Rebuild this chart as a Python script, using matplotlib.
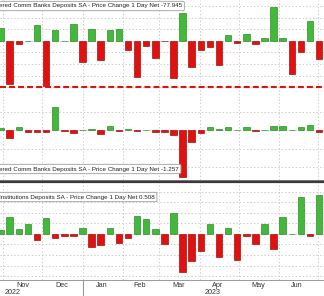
import matplotlib
matplotlib.use('Agg')
import matplotlib.pyplot as plt
import matplotlib.dates as mdates
from matplotlib import font_manager
import numpy as np
import pandas as pd

# weekly observations
weeks = pd.date_range('2022-10-30', periods=36, freq='7D')

large_banks = [56.5, -187, -13, 1, 70, -196, 48, 1, 74, -91, 52, -83, 46, 52, -39, -157, -22, -74,
               -2, -161, 122, -113, -39, -26, -104, 26, -9, 28, -13, 13, 148, 13, -144, -50, 87, -77.945]
small_banks = [1, -4.3, 1.6, -0.8, -1.1, -1.1, 12.4, -0.5, -1.6, 0.15, 0.3, -1.9, 2.2, -0.5, 0.5, -0.5, 0.15, -1.1,
               -1.1, -2.7, -25.4, -6.5, -1.6, 1.6, 0.3, 1.9, 0.15, 1.4, -0.5, 0.15, 2.2, 2.2, 0.15, 1.4, 2.7, -1.257]
foreign = [3.8, 16, 4.8, 9.5, -5.7, 15, -3.8, -1.9, -1.9, 5.7, -12.4, -10.5, 5.7, -8.6, -3.8, 17, 14, 4.8,
           -9.5, 20, -36, -26, -16, 9.5, -22, 5.7, -25, -1.9, -9.5, 9.5, -14, 16, 0.3, 35, -1.9, 37]

titles = ['ered Comm Banks Deposits SA - Price Change 1 Day Net -77.945',
          'ered Comm Banks Deposits SA - Price Change 1 Day Net -1.257',
          'Institutions Deposits SA - Price Change 1 Day Net 0.508']
month_labels = ['Nov', 'Dec', 'Jan', 'Feb', 'Mar', 'Apr', 'May', 'Jun']
month_mid = pd.to_datetime(['2022-11-16', '2022-12-16', '2023-01-16', '2023-02-14',
                            '2023-03-16', '2023-04-15', '2023-05-16', '2023-06-15'])
month_starts = pd.date_range('2022-11-01', '2023-07-01', freq='MS')

names = {f.name for f in font_manager.fontManager.ttflist}
if 'Liberation Sans Narrow' in names:
    title_font, title_size = 'Liberation Sans Narrow', 5.4
else:
    title_font, title_size = 'Liberation Sans', 4.5

plt.rcParams['font.family'] = ['Liberation Sans', 'DejaVu Sans']
plt.rcParams['lines.scale_dashes'] = False

W, H = 324, 296
fig = plt.figure(figsize=(W / 100, H / 100), dpi=100)

GREEN = '#44b83a'
GREEN_E = '#2c8f27'
RED = '#e0120f'
RED_E = '#a80c0a'

jan1 = pd.Timestamp('2023-01-01')
x0 = mdates.date2num(jan1) - 82.5 / 1.3
x1 = x0 + 324 / 1.3


def panel(top, bottom, values, ylim, grid):
    ax = fig.add_axes([0, 1 - bottom / H, 1, (bottom - top) / H])
    v = np.array(values)
    cols = [GREEN if a >= 0 else RED for a in v]
    edges = [GREEN_E if a >= 0 else RED_E for a in v]
    ax.bar(weeks, v, width=5, color=cols, edgecolor=edges, linewidth=0.5, zorder=3)
    ax.set_xlim(x0, x1)
    ax.set_ylim(*ylim)
    ax.set_yticks(grid)
    ax.set_xticks(month_starts)
    ax.tick_params(length=0, labelleft=False, labelbottom=False)
    ax.grid(True, color='#c4c4c4', linewidth=0.6, linestyle=(0, (1, 1.5)))
    for s in ['left', 'right', 'top']:
        ax.spines[s].set_visible(False)
    ax.spines['bottom'].set_color('#777777')
    ax.spines['bottom'].set_linewidth(0.7)
    return ax


ax1 = panel(0, 97.5, large_banks, (-245, 177), [-200, -150, -100, -50, 0, 50, 100, 150])
ax1.axhline(-200, color=RED, linewidth=1.5, dashes=(4.3, 2.2), zorder=4)

ax2 = panel(98, 180, small_banks, (-27, 17.3), [-20, -10, 0, 10])

ax3 = panel(182, 280, foreign, (-43.8, 49.5), [-40, -30, -20, -10, 0, 10, 20, 30, 40])
ax3.spines['top'].set_visible(True)
ax3.spines['top'].set_color('#3a3a3a')
ax3.spines['top'].set_linewidth(1.6)
ax3.spines['bottom'].set_color('#999999')

ax3.set_xticks(month_mid, minor=True)
ax3.set_xticklabels(month_labels, minor=True)
ax3.tick_params(axis='x', which='minor', length=0, pad=1.5, labelsize=5.2, labelcolor='#333333')
ax3.axvline(jan1, ymin=-0.17, ymax=0, clip_on=False, color='#999999', linewidth=0.8)
ax3.text(mdates.date2num(pd.Timestamp('2022-11-08')), -0.095, '2022', transform=ax3.get_xaxis_transform(),
         ha='center', va='top', fontsize=5.2, color='#333333')
ax3.text(mdates.date2num(pd.Timestamp('2023-04-11')), -0.095, '2023', transform=ax3.get_xaxis_transform(),
         ha='center', va='top', fontsize=5.2, color='#333333')

# legend-style title boxes
for (y, t) in zip([6, 169, 197], titles):
    fig.text(-1 / W, 1 - y / H, t, ha='left', va='center', fontsize=title_size, color='#222222',
             family=[title_font, 'DejaVu Sans'],
             bbox=dict(boxstyle='round,pad=0.35,rounding_size=0.2', facecolor='white',
                       edgecolor='#9a9a9a', linewidth=0.6), zorder=10)

fig.savefig('out.png', dpi=100)
